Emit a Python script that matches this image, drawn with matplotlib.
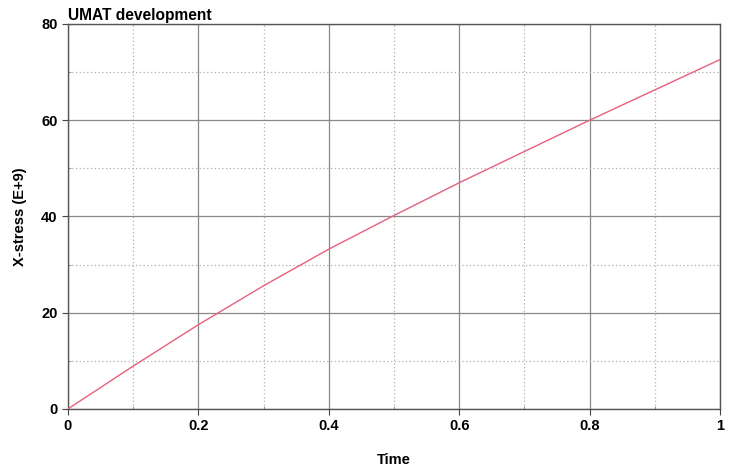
import matplotlib
matplotlib.use('Agg')
import matplotlib.pyplot as plt
from matplotlib.ticker import MultipleLocator

plt.rcParams['font.family'] = ['Liberation Sans', 'DejaVu Sans']
plt.rcParams['font.weight'] = 'bold'

# UMAT development - X-stress vs Time
time = [0, 0.1, 0.2, 0.3, 0.4, 0.5, 0.6, 0.7, 0.8, 0.9, 1.0]
xstress = [0, 8.9, 17.5, 25.6, 33.2, 40.2, 47.0, 53.5, 60.0, 66.3, 72.6]
xtick_labels = ['0', '0.2', '0.4', '0.6', '0.8', '1']

fig = plt.figure(figsize=(7.31, 4.70), dpi=100)
ax = fig.add_axes([0.093, 0.130, 0.892, 0.819])

ax.plot(time, xstress, color='#e8607a', linewidth=1.0, zorder=3)

ax.set_xlim(0, 1)
ax.set_ylim(0, 80)
ax.set_xticks([0, 0.2, 0.4, 0.6, 0.8, 1.0])
ax.set_xticklabels(xtick_labels)
ax.xaxis.set_minor_locator(MultipleLocator(0.1))
ax.yaxis.set_major_locator(MultipleLocator(20))
ax.yaxis.set_minor_locator(MultipleLocator(10))

ax.grid(which='major', color='#888888', linestyle='-', linewidth=0.9)
ax.grid(which='minor', color='#b0b0b0', linestyle=(0, (1, 2)), linewidth=0.9)
ax.tick_params(which='major', direction='out', length=4, labelsize=10.5, color='#444444')
ax.tick_params(which='minor', direction='in', length=2, color='#888888')
for s in ax.spines.values():
    s.set_color('#555555')
    s.set_linewidth(1.0)

ax.set_xlabel('Time', fontsize=10.5, fontweight='bold', labelpad=14)
ax.set_ylabel('X-stress (E+9)', fontsize=10.5, fontweight='bold', labelpad=10)
ax.set_title('UMAT development', loc='left', fontsize=11.2, fontweight='bold', pad=3)

fig.savefig('out.png', dpi=100)
